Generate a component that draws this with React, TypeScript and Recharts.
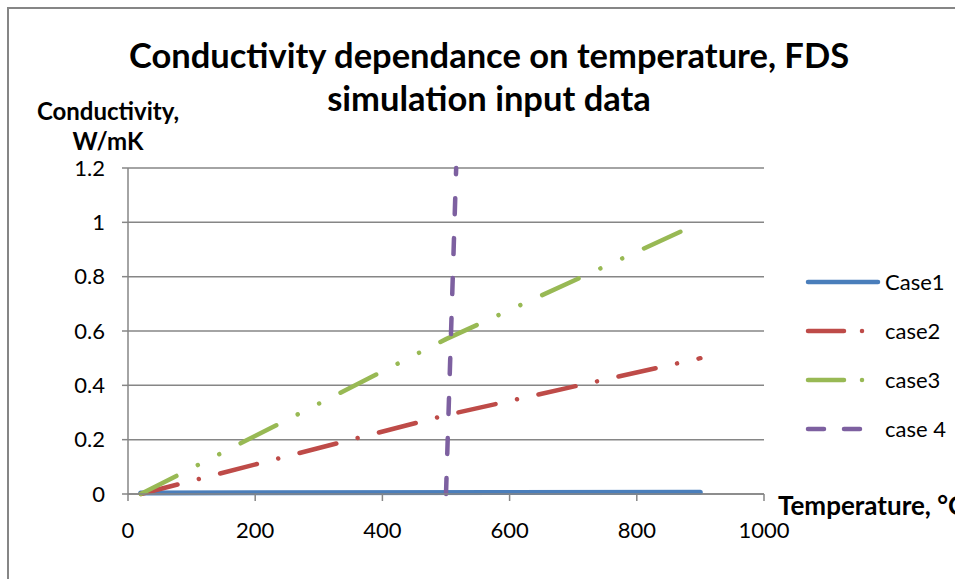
import { LineChart, Line, XAxis, YAxis, CartesianGrid, Legend } from 'recharts';

// temperatures (°C) and conductivities (W/mK)
const case1Temp = [20, 900];
const case1Cond = [0.004, 0.006];
const case2Temp = [20, 500, 900];
const case2Cond = [0, 0.29, 0.5];
const case3Temp = [20, 500, 871];
const case3Cond = [0, 0.57, 0.968];
const case4Temp = [500, 516];
const case4Cond = [0, 1.2];

const xTicks = [0, 200, 400, 600, 800, 1000];
const yTicks = [0, 0.2, 0.4, 0.6, 0.8, 1, 1.2];

const toPoints = (t: number[], k: number[]) => t.map((v, i) => ({ t: v, k: k[i] }));

const series = [
  { name: 'Case1', data: toPoints(case1Temp, case1Cond), color: '#4A7EBB', dash: undefined, legendDash: undefined },
  { name: 'case2', data: toPoints(case2Temp, case2Cond), color: '#BE4B48', dash: '38 22 0.01 22', legendDash: '36 18 0.01 40' },
  { name: 'case3', data: toPoints(case3Temp, case3Cond), color: '#98B954', dash: '40 24 0.01 24 0.01 24', legendDash: '36 18 0.01 40' },
  { name: 'case 4', data: toPoints(case4Temp, case4Cond), color: '#7D60A0', dash: '16 24', legendDash: '16 20' },
];

const FONT = 'Lato, "Liberation Sans", sans-serif';
const AXIS = '#868686';

function LegendBox() {
  return (
    <div style={{ fontFamily: FONT, fontSize: 22, color: '#000' }}>
      {series.map((s) => (
        <div key={s.name} style={{ display: 'flex', alignItems: 'center', height: 49 }}>
          <svg width={76} height={10} style={{ marginRight: 4 }}>
            <line x1={3} y1={5} x2={73} y2={5} stroke={s.color} strokeWidth={4.5}
              strokeLinecap="round" strokeDasharray={s.legendDash} />
          </svg>
          <span>{s.name}</span>
        </div>
      ))}
    </div>
  );
}

export default function App() {
  return (
    <div style={{ position: 'absolute', left: 0, top: 0, width: 955, height: 579, overflow: 'hidden', background: '#fff' }}>
      {/* outer chart frame */}
      <div style={{ position: 'absolute', left: 7, top: 7, width: 1000, height: 700, border: `2.5px solid ${AXIS}` }} />

      <div style={{ position: 'absolute', left: 0, top: 0 }}>
        <LineChart width={955} height={579} margin={{ top: 168, right: 191, bottom: 50, left: 68 }}>
          <CartesianGrid vertical={false} stroke={AXIS} strokeWidth={1.5} />
          <XAxis dataKey="t" type="number" domain={[0, 1000]} ticks={xTicks} height={35}
            allowDuplicatedCategory={false}
            stroke={AXIS} strokeWidth={1.5} tickSize={7} tickMargin={21}
            tick={{ fill: '#000', fontSize: 22, fontFamily: FONT }} />
          <YAxis dataKey="k" type="number" domain={[0, 1.2]} ticks={yTicks} width={60}
            stroke={AXIS} strokeWidth={1.5} tickSize={6} tickMargin={17}
            tick={{ fill: '#000', fontSize: 22, fontFamily: FONT }} />
          <Legend layout="vertical" align="center" verticalAlign="middle" content={() => <LegendBox />}
            wrapperStyle={{ left: 805, top: 257, width: 150 }} />
          {series.map((s) => (
            <Line key={s.name} data={s.data} dataKey="k" name={s.name} type="linear"
              stroke={s.color} strokeWidth={s.name === 'Case1' ? 5 : 4.5} strokeLinecap="round"
              strokeDasharray={s.dash} dot={false} activeDot={false} isAnimationActive={false} />
          ))}
        </LineChart>
      </div>

      <div style={{ position: 'absolute', left: 0, width: 978, top: 33, textAlign: 'center', fontFamily: FONT, fontWeight: 700, fontSize: 34.5, lineHeight: '43px', color: '#000' }}>
        Conductivity dependance on temperature, FDS<br />simulation input data
      </div>
      <div style={{ position: 'absolute', left: 8, width: 200, top: 96, textAlign: 'center', fontFamily: FONT, fontWeight: 700, fontSize: 24, lineHeight: '30px', color: '#000' }}>
        Conductivity,<br />W/mK
      </div>
      <div style={{ position: 'absolute', left: 778, top: 490, whiteSpace: 'nowrap', fontFamily: FONT, fontWeight: 700, fontSize: 26, lineHeight: '30px', color: '#000' }}>
        Temperature, °C
      </div>
    </div>
  );
}
